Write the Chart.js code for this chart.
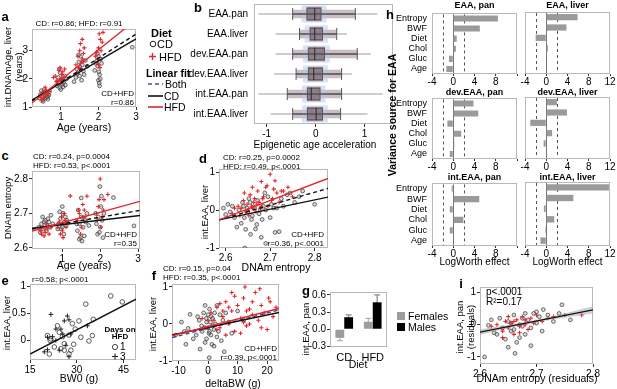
<!DOCTYPE html>
<html><head><meta charset="utf-8">
<script src="https://cdn.jsdelivr.net/npm/chart.js@4.4.1/dist/chart.umd.min.js"></script>
<style>
html,body{margin:0;padding:0;background:#fff;width:617px;height:389px;overflow:hidden;font-family:"Liberation Sans",Arial,Helvetica,sans-serif;}
#root{position:relative;width:617px;height:389px;}
canvas{position:absolute;}
.t{position:absolute;white-space:nowrap;line-height:1;color:#000;}
svg{position:absolute;left:0;top:0;}
</style></head><body><div id="root"></div>
<script>
// ---------------- DATA ----------------
// Panel a: Age (years) vs int.DNAmAge, liver (years)
const aCD = [[0.42,1.32],[0.46,1.45],[0.5,1.38],[0.52,1.25],[0.55,1.52],[0.58,1.4],[0.6,1.33],[0.62,1.48],[0.65,1.28],[0.68,1.42],[0.48,1.58],[0.56,1.62],[0.7,1.55],[0.53,1.2],[0.64,1.36],
[0.9,1.75],[0.93,2.05],[0.95,1.85],[0.97,1.68],[1.0,1.95],[1.0,1.62],[1.02,2.0],[1.04,1.8],[0.98,2.22],[1.06,1.72],[1.08,1.9],[1.1,2.1],[1.12,1.78],[1.15,2.0],[0.96,2.35],
[1.35,1.9],[1.4,2.05],[1.42,2.35],[1.45,2.2],[1.48,2.6],[1.5,2.1],[1.5,2.42],[1.52,2.8],[1.55,1.95],[1.57,2.5],[1.6,2.28],[1.62,2.15],[1.65,2.65],[1.7,2.45],[1.47,2.85],
[1.9,2.3],[1.93,2.55],[1.95,2.62],[1.97,2.9],[1.98,2.45],[2.0,2.8],[2.0,1.95],[2.01,2.25],[2.02,1.85],[2.03,2.15],[2.03,1.75],[2.05,2.0],[2.06,2.7],[2.08,2.55],[2.9,3.12]];
const aHFD = [[0.45,1.4],[0.5,1.5],[0.52,1.28],[0.55,1.35],[0.58,1.7],[0.6,1.6],[0.63,1.5],[0.66,1.42],[0.68,1.55],[0.48,1.22],
[0.8,2.05],[0.85,2.1],[0.88,1.9],[0.9,1.95],[0.95,2.3],[0.98,2.4],[1.0,2.0],[1.02,2.15],[1.03,1.85],[1.05,2.25],[1.1,2.35],[1.08,2.05],
[1.4,2.5],[1.42,2.2],[1.45,2.8],[1.48,2.4],[1.5,3.0],[1.52,3.25],[1.55,2.6],[1.57,3.4],[1.58,2.7],[1.6,2.9],[1.62,3.1],[1.5,2.35],
[1.92,2.8],[1.95,2.95],[1.98,2.7],[2.0,3.1],[2.0,2.5],[2.02,3.6],[2.05,3.4],[2.07,3.0],[2.1,3.3],[2.12,3.65],[2.04,2.4]];
const aFitCD = [[0.23,1.25],[3.0,3.42]];
const aFitHFD = [[0.23,1.14],[3.0,4.1]];
const aFitBoth = [[0.23,1.22],[3.0,3.59]];

// Panel b: epigenetic age acceleration distributions
const bCats = ['EAA.pan','EAA.liver','dev.EAA.pan','dev.EAA.liver','int.EAA.pan','int.EAA.liver'];
const bMin = [-1.17,-0.82,-0.82,-0.85,-1.17,-0.92];
const bMax = [1.26,0.64,1.13,0.74,1.37,1.06];
const bWhiskLo = [-0.47,-0.33,-0.47,-0.4,-0.58,-0.47];
const bWhiskHi = [0.81,0.43,0.85,0.53,0.53,0.51];
const bQ1 = [-0.19,-0.125,-0.16,-0.16,-0.18,-0.18];
const bQ3 = [0.12,0.15,0.19,0.15,0.1,0.15];
const bMed = [-0.02,-0.02,-0.02,-0.04,-0.09,0.01];

// Panel c: Age vs DNAm entropy
const cCD = [[0.38,2.66],[0.42,2.645],[0.45,2.67],[0.48,2.69],[0.5,2.655],[0.52,2.675],[0.55,2.68],[0.58,2.65],[0.6,2.665],[0.62,2.685],[0.65,2.675],[0.68,2.66],[0.7,2.695],[0.75,2.67],
[0.88,2.655],[0.9,2.67],[0.93,2.705],[0.95,2.685],[0.97,2.655],[1.0,2.66],[1.0,2.72],[1.02,2.7],[1.04,2.64],[1.05,2.675],[1.08,2.69],[1.1,2.665],[1.12,2.68],
[1.38,2.67],[1.4,2.65],[1.42,2.71],[1.45,2.67],[1.48,2.63],[1.5,2.69],[1.5,2.745],[1.52,2.62],[1.55,2.66],[1.58,2.635],[1.6,2.68],[1.62,2.675],[1.65,2.7],[1.7,2.665],[1.45,2.625],
[1.88,2.7],[1.9,2.67],[1.93,2.64],[1.95,2.69],[1.98,2.645],[1.99,2.778],[2.0,2.66],[2.02,2.72],[2.03,2.75],[2.05,2.68],[2.07,2.63],[2.1,2.7],[2.35,2.746],[2.89,2.664]];
const cHFD = [[0.42,2.65],[0.45,2.64],[0.5,2.66],[0.55,2.645],[0.58,2.67],[0.6,2.655],[0.65,2.64],[0.7,2.66],[0.52,2.635],
[0.88,2.66],[0.92,2.675],[0.95,2.64],[0.98,2.69],[1.0,2.65],[1.02,2.63],[1.05,2.7],[1.08,2.68],[1.1,2.66],[1.21,2.751],
[1.4,2.68],[1.43,2.71],[1.45,2.7],[1.48,2.64],[1.5,2.66],[1.54,2.726],[1.55,2.69],[1.6,2.69],[1.65,2.75],[1.58,2.71],
[1.9,2.7],[1.92,2.68],[1.95,2.72],[1.97,2.74],[2.0,2.8],[2.02,2.66],[2.05,2.69],[2.08,2.71],[2.1,2.74],[2.2,2.755]];
const cFitCD = [[0.2,2.657],[3.05,2.694]];
const cFitHFD = [[0.2,2.649],[3.05,2.735]];
const cFitBoth = [[0.2,2.655],[3.05,2.709]];

// Panel d: DNAm entropy vs int.EAA, liver
const dCD = [[2.595,0.05],[2.6,-0.12],[2.605,0.15],[2.61,-0.05],[2.615,0.1],[2.62,-0.2],[2.625,-0.45],[2.63,0.0],[2.635,-0.35],[2.638,0.2],[2.64,0.1],[2.642,-0.2],[2.643,-1.0],[2.645,-0.51],[2.648,0.05],[2.65,-0.05],[2.652,0.3],[2.655,0.2],[2.656,-0.64],[2.658,-0.25],[2.66,-0.15],[2.662,0.08],[2.665,0.05],[2.667,-0.5],[2.67,-0.38],[2.672,0.25],[2.675,-0.1],[2.678,0.0],[2.68,-0.72],[2.682,-0.25],[2.685,0.1],[2.688,0.45],[2.69,-0.88],[2.69,0.0],[2.695,0.35],[2.7,-0.2],[2.703,0.15],[2.708,0.05],[2.711,-0.59],[2.715,0.05],[2.72,-0.57],[2.725,0.3],[2.73,0.1],[2.738,0.4],[2.745,0.45],[2.755,0.2],[2.765,0.35],[2.773,0.5],[2.8,0.15]];
const dHFD = [[2.615,-0.1],[2.62,0.05],[2.628,0.1],[2.632,-0.15],[2.635,0.05],[2.64,0.25],[2.642,0.45],[2.645,-0.05],[2.648,0.15],[2.65,0.0],[2.652,-0.15],[2.655,0.4],[2.658,0.1],[2.66,0.05],[2.66,0.6],[2.663,0.2],[2.665,0.3],[2.668,-0.05],[2.67,0.15],[2.672,0.5],[2.675,0.2],[2.678,0.05],[2.68,0.1],[2.68,0.75],[2.683,0.3],[2.685,0.35],[2.69,0.6],[2.693,0.64],[2.695,0.1],[2.7,0.94],[2.703,0.25],[2.705,0.3],[2.708,0.55],[2.711,0.77],[2.715,0.45],[2.72,0.2],[2.725,0.5],[2.73,0.5],[2.74,0.6],[2.75,0.35]];
const dFitCD = [[2.585,-0.26],[2.83,0.34]];
const dFitHFD = [[2.585,-0.26],[2.83,0.83]];
const dFitBoth = [[2.585,-0.26],[2.83,0.57]];

// Panel e: BW0 vs int.EAA, liver
const eDay1 = [[40.9,0.82],[44.6,0.71],[32.9,0.67],[35.3,0.39],[30.7,0.36],[28.6,0.31],[29.5,0.21],[31.3,0.06],[35.0,0.09],[33.9,-0.01],[29,-0.07],[26,-0.06],[23.8,0.27],[24.4,0.15],[25.4,0.07],[21.7,0.03],[20.6,0.09],[21.5,0],[22.8,-0.12],[21.2,-0.25],[26,-0.18],[27.5,-0.25],[24.9,-0.15],[28.1,-0.18],[27.5,0.1]];
const eDay3 = [[21.7,0.48],[27,0.45],[27.5,0.38],[23.3,0.21],[24.9,0.21],[20.6,0.06],[22.2,0.07],[23.3,0],[19.6,-0.21],[20.6,-0.17],[24.4,-0.18],[27.5,-0.3],[26.5,-0.09],[28.1,0.12],[33.4,0.27],[26,0.36],[25.5,0.12]];
const eFit = [[15,-0.25],[49,0.76]];

// Panel f: deltaBW vs int.EAA, liver
const fCD = [[-11,-0.3],[-9,0.05],[-8,-0.2],[-6.7,-0.12],[-6.1,0.26],[-5,-0.4],[-4,-0.3],[-3.5,0.2],[-3,0.1],[-2.7,-0.68],[-2.2,-0.05],[-2,-0.2],[-1.5,0.3],[-1.2,-0.1],[-1,-0.5],[-1,0.5],[-0.6,0.15],[-0.5,0.05],[-0.5,-0.4],[0,-0.1],[0,0.25],[0.3,-0.25],[0.4,-0.91],[0.5,0.4],[0.5,-0.2],[0.8,0.05],[1,-0.3],[1,0.2],[1.3,-0.55],[1.5,0.15],[1.5,-0.05],[2,-0.6],[2,-0.15],[2.2,0.3],[2.5,0.0],[3,0.5],[3,-0.35],[3.5,-0.2],[4,0.25],[4.5,-0.45],[5,0.1],[5.5,-0.75],[6,0.3],[7,0.05],[8,-0.25],[10,0.35],[12,0.1],[-7.5,-0.55]];
const fHFD = [[-2,0.15],[-1,-0.1],[0,0.1],[1,0.3],[2,0.1],[3,0.45],[4,-0.1],[4,0.55],[5,0.2],[6,0.6],[6,-0.3],[7,0.0],[7,0.45],[8,0.35],[8,0.85],[9,-0.2],[9,0.75],[10,0.5],[11,0.15],[11,-0.25],[12,0.7],[12,0.05],[12.5,1.0],[13,-0.05],[13,0.35],[14,0.4],[14,0.0],[15,0.25],[15,0.6],[16,0.85],[17,0.1],[17.5,0.95],[18,0.5],[18,-0.1],[19,0.3],[20,-0.15],[20.5,0.7],[21,0.6],[22,0.2],[23,0.45],[3,-0.15],[5,0.35]];
const fFitCD = [[-12.2,-0.30],[24,0.31]];
const fFitHFD = [[-12.2,-0.32],[24,0.42]];
const fFitBoth = [[-12.2,-0.37],[24,0.38]];

// Panel g: int.EAA, pan by diet and sex
const gCats = ['CD','HFD'];
const gFemales = [-0.15,0.13];
const gMales = [0.21,0.47];
const gFemalesErr = [0.05,0.06];
const gMalesErr = [0.04,0.13];

// Panel h: LogWorth effects
const hCats = ['Entropy','BWF','Diet','Chol','Gluc','Age'];
const hEAApan = [8.4,5.0,0.65,0.5,-0.8,-1.3];
const hEAAliver = [5.9,3.8,-2.0,0.3,0,0];
const hDevPan = [3.8,4.7,-1.1,1.5,0.2,-0.65];
const hDevLiver = [2.0,3.9,-3.0,1.1,-0.5,0];
const hIntPan = [-0.3,4.9,-0.65,1.9,-0.65,0];
const hIntLiver = [11.8,5.1,-0.45,1.5,-0.2,-1.1];
const hThresholds = [-2,2];

// Panel i: residuals
const iCD = [[2.608,-1.0],[2.615,-0.02],[2.62,0.15],[2.63,-0.3],[2.635,0.2],[2.64,-0.1],[2.645,-0.45],[2.65,0.1],[2.65,-0.7],[2.655,-0.2],[2.66,0.3],[2.66,-0.15],[2.662,-0.89],[2.665,-0.55],[2.67,0.0],[2.67,-0.4],[2.675,0.2],[2.68,-0.3],[2.68,0.35],[2.685,0.15],[2.69,-0.1],[2.69,-0.65],[2.695,0.35],[2.7,0.05],[2.7,0.4],[2.705,0.25],[2.71,-0.2],[2.712,0.47],[2.72,0.3],[2.73,0.1],[2.74,0.35],[2.745,0.62],[2.76,0.15],[2.625,-0.25],[2.655,0.05],[2.675,-0.05]];
const iHFD = [[2.62,-0.05],[2.63,0.0],[2.64,-0.2],[2.64,-0.4],[2.645,0.1],[2.65,-0.1],[2.65,0.25],[2.655,0.05],[2.66,-0.3],[2.66,0.1],[2.665,0.15],[2.67,-0.05],[2.67,-0.25],[2.675,0.25],[2.68,0.0],[2.68,0.15],[2.685,-0.15],[2.69,0.2],[2.695,0.05],[2.7,0.3],[2.71,0.1],[2.72,0.2],[2.73,0.25],[2.75,0.3],[2.78,0.3]];
const iFit = [[2.6,-0.23],[2.8,0.46]];
const iBandHi = [[2.6,-0.16],[2.64,-0.05],[2.68,0.071],[2.72,0.214],[2.76,0.38],[2.8,0.56]];
const iBandLo = [[2.6,-0.30],[2.64,-0.13],[2.68,0.021],[2.72,0.154],[2.76,0.26],[2.8,0.36]];

// ---------------- HELPERS ----------------
Chart.defaults.font.family = "'Liberation Sans', Arial, Helvetica, sans-serif";
Chart.defaults.color = '#000';
const root = document.getElementById('root');
const RED = '#e3262b';
const pts = a => a.map(([x,y]) => ({x,y}));

function txt(x,y,s,o={}){
  const d=document.createElement('div'); d.className='t'; d.textContent=s;
  d.style.fontSize=(o.size||10)+'px'; if(o.bold) d.style.fontWeight='bold'; if(o.color) d.style.color=o.color;
  const ax = o.align==='left'?'0%':o.align==='right'?'-100%':'-50%';
  d.style.left=x+'px'; d.style.top=y+'px';
  d.style.transform='translate('+ax+',-50%)'+(o.rot?' rotate('+o.rot+'deg)':'');
  root.appendChild(d);
}

const framePlugin = {id:'frame', beforeDatasetsDraw(chart){
  const a=chart.chartArea, ctx=chart.ctx; ctx.save(); ctx.strokeStyle='#b8b8b8'; ctx.lineWidth=1;
  ctx.strokeRect(Math.round(a.left)+0.5, Math.round(a.top)+0.5, Math.round(a.right-a.left)-1, Math.round(a.bottom-a.top)-1); ctx.restore();}};

function linAxis(min,max,ticks,size,o={}){
  return {type:'linear', min, max, display:true,
    afterBuildTicks: s=>{ s.ticks = ticks.map(v=>({value:v})); },
    ticks:{font:{size:o.font||10}, color:'#000', padding:o.pad??1, maxRotation:0, minRotation:0, autoSkip:false,
      display: o.labels!==false, callback: o.cb || (v=>String(v))},
    grid:{display:true, drawOnChartArea:false, drawTicks:true, tickLength:o.tl??3, color:'#333', lineWidth:1},
    border:{display:false},
    afterFit: s=>{ if(s.isHorizontal()) s.height=size; else s.width=size; }
  };
}
function catAxis(labels,size,o={}){
  return {type:'category', labels, display:o.display!==false, offset:true,
    ticks:{font:{size:o.font||10}, color:'#000', padding:o.pad??3, autoSkip:false, maxRotation:0, minRotation:0, display:o.labels!==false},
    grid:{display:o.grid===true, drawOnChartArea:false, drawTicks:true, tickLength:3, color:'#333'},
    border:{display:false},
    afterFit: s=>{ if(s.isHorizontal()) s.height=size; else s.width=size; }
  };
}

function panel(fr, yW, xH, cfg){
  const pad={top:6,right:8,left:8,bottom:0};
  const c=document.createElement('canvas');
  const W=pad.left+yW+fr.w+pad.right, H=pad.top+fr.h+xH;
  c.width=W; c.height=H; c.style.width=W+'px'; c.style.height=H+'px';
  c.style.left=(fr.l-yW-pad.left)+'px'; c.style.top=(fr.t-pad.top)+'px';
  root.appendChild(c);
  cfg.options = Object.assign({responsive:false, animation:false, devicePixelRatio:1, maintainAspectRatio:false,
    layout:{padding:pad}, plugins:{legend:{display:false}, tooltip:{enabled:false}}}, cfg.options||{});
  cfg.plugins = [framePlugin].concat(cfg.plugins||[]);
  return new Chart(c,cfg);
}

function lineDs(d,color,dash){ return {data:pts(d), showLine:true, pointRadius:0, borderColor:color, borderWidth:1.4, borderDash:dash||[], fill:false}; }
function cdDs(d){ return {data:pts(d), pointStyle:'circle', pointRadius:1.9, borderColor:'#333', borderWidth:0.7, backgroundColor:'rgba(150,150,150,0.35)'}; }
function hfdDs(d){ return {data:pts(d), pointStyle:'cross', pointRadius:2.1, borderColor:RED, borderWidth:1.1, backgroundColor:RED}; }

function scatter(fr, xAx, yAx, datasets){
  return panel(fr, 30, 18, {type:'scatter', data:{datasets}, options:{scales:{x:xAx, y:yAx}}});
}

// ---------------- PANEL a ----------------
scatter({l:32,t:28,w:104,h:79}, linAxis(0.23,3.0,[1,2,3],18), linAxis(1,3.77,[1,2,3],30),
  [lineDs(aFitHFD,RED), lineDs(aFitCD,'#111'), lineDs(aFitBoth,'#111',[4,3]), hfdDs(aHFD), cdDs(aCD)]);
// ---------------- PANEL c ----------------
scatter({l:32,t:170,w:108,h:79}, linAxis(0.2,3.05,[1,2,3],18), linAxis(2.597,2.823,[2.6,2.7,2.8],30),
  [lineDs(cFitHFD,RED), lineDs(cFitCD,'#111'), lineDs(cFitBoth,'#111',[4,3]), hfdDs(cHFD), cdDs(cCD)]);
// ---------------- PANEL d ----------------
scatter({l:219,t:168,w:109,h:80}, linAxis(2.585,2.83,[2.6,2.7,2.8],18), linAxis(-1,1.08,[-1,0,1],30),
  [lineDs(dFitHFD,RED), lineDs(dFitCD,'#111'), lineDs(dFitBoth,'#111',[4,3]), hfdDs(dHFD), cdDs(dCD)]);
// ---------------- PANEL e ----------------
scatter({l:30,t:283,w:106,h:77}, linAxis(15,49,[15,30,45],18), linAxis(-0.36,1.04,[0,0.5,1],30),
  [lineDs(eFit,'#111'),
   {data:pts(eDay3), pointStyle:'cross', pointRadius:2.4, borderColor:'#222', borderWidth:1},
   {data:pts(eDay1), pointStyle:'circle', pointRadius:2.3, borderColor:'#333', borderWidth:0.8, backgroundColor:'rgba(255,255,255,0)'}]);
// ---------------- PANEL f ----------------
scatter({l:172,t:283,w:107,h:78}, linAxis(-12.2,24,[-10,0,10,20],18), linAxis(-1,1.08,[-1,0,1],30),
  [lineDs(fFitHFD,RED), lineDs(fFitCD,'#111'), lineDs(fFitBoth,'#3b3b8f',[4,3]), hfdDs(fHFD), cdDs(fCD)]);
// ---------------- PANEL i ----------------
scatter({l:480,t:286,w:113,h:78}, linAxis(2.6,2.8,[2.6,2.7,2.8],18), linAxis(-1.22,1.17,[-1,0,1],30),
  [lineDs(iFit,'#111'),
   {data:pts(iBandHi), showLine:true, pointRadius:0, borderColor:'rgba(150,150,150,0.6)', borderWidth:0.6, fill:'+1', backgroundColor:'rgba(160,160,160,0.45)'},
   {data:pts(iBandLo), showLine:true, pointRadius:0, borderColor:'rgba(150,150,150,0.6)', borderWidth:0.6, fill:false},
   hfdDs(iHFD), cdDs(iCD)]);

// ---------------- PANEL b ----------------
(function(){
  const thin = 0.012;
  const fb = (lo,hi,bp,color,extra) => Object.assign({data:lo.map((v,i)=>[v,hi[i]]), grouped:false, barPercentage:bp, categoryPercentage:1, backgroundColor:color, borderWidth:0}, extra||{});
  const medLo=bMed.map(v=>v-thin), medHi=bMed.map(v=>v+thin);
  const capLLo=bWhiskLo.map(v=>v-0.01), capLHi=bWhiskLo.map(v=>v+0.01);
  const capRLo=bWhiskHi.map(v=>v-0.01), capRHi=bWhiskHi.map(v=>v+0.01);
  const haloLo=bQ1.map(v=>v-0.1), haloHi=bQ3.map(v=>v+0.1);
  panel({l:254,t:1,w:139,h:123}, 72, 16, {type:'bar', data:{labels:bCats, datasets:[
      fb(medLo,medHi,0.62,'#333'),
      fb(capLLo,capLHi,0.6,'#555'),
      fb(capRLo,capRHi,0.6,'#555'),
      fb(bQ1,bQ3,0.62,'rgba(0,0,0,0)',{borderWidth:1,borderColor:'#555',borderSkipped:false}),
      fb(bWhiskLo,bWhiskHi,0.07,'#555'),
      fb(bQ1,bQ3,0.72,'rgba(125,100,110,0.75)'),
      fb(haloLo,haloHi,0.85,'rgba(185,200,232,0.55)'),
      fb(bWhiskLo,bWhiskHi,0.42,'rgba(150,125,140,0.5)'),
      fb(bMin,bMax,0.1,'rgba(150,140,165,0.45)')
    ]},
    options:{indexAxis:'y', scales:{x:linAxis(-1.26,1.58,[-1,0,1],16), y:catAxis(bCats,72,{font:10,pad:3})}}});
})();

// ---------------- PANEL g ----------------
const errPlugin = {id:'err', beforeDatasetsDraw(chart){
  const ctx=chart.ctx, ys=chart.scales.y;
  chart.data.datasets.forEach((ds,i)=>{ chart.getDatasetMeta(i).data.forEach((el,j)=>{
    const v=ds.data[j], e=ds.err[j], x=el.x, y1=ys.getPixelForValue(v-e), y2=ys.getPixelForValue(v+e);
    ctx.save(); ctx.strokeStyle=ds.errColor; ctx.lineWidth=1.2; ctx.beginPath();
    ctx.moveTo(x,y1); ctx.lineTo(x,y2); ctx.moveTo(x-3,y1); ctx.lineTo(x+3,y1); ctx.moveTo(x-3,y2); ctx.lineTo(x+3,y2);
    ctx.stroke(); ctx.restore(); }); }); }};
panel({l:330,t:291,w:57,h:56}, 26, 16, {type:'bar', data:{labels:gCats, datasets:[
    {data:gFemales, err:gFemalesErr, errColor:'#b0b0b0', backgroundColor:'#9c9c9c', barPercentage:1, categoryPercentage:0.62},
    {data:gMales, err:gMalesErr, errColor:'#8a8a8a', backgroundColor:'#000', barPercentage:1, categoryPercentage:0.62}]},
  options:{scales:{x:catAxis(gCats,16,{font:11,pad:1}), y:linAxis(-0.31,0.65,[-0.3,0,0.3,0.6],26,{cb:v=>v.toFixed(1)})}},
  plugins:[errPlugin]});

// ---------------- PANEL h ----------------
const refPlugin = {id:'ref', beforeDatasetsDraw(chart){
  const ctx=chart.ctx, xs=chart.scales.x, a=chart.chartArea; ctx.save();
  ctx.strokeStyle='#555'; ctx.lineWidth=1; ctx.setLineDash([3,3]);
  hThresholds.forEach(v=>{const x=Math.round(xs.getPixelForValue(v))+0.5; ctx.beginPath(); ctx.moveTo(x,a.top+1); ctx.lineTo(x,a.bottom-1); ctx.stroke();});
  ctx.setLineDash([]); ctx.strokeStyle='#777';
  const x0=Math.round(xs.getPixelForValue(0))+0.5; ctx.beginPath(); ctx.moveTo(x0,a.top+1); ctx.lineTo(x0,a.bottom-1); ctx.stroke();
  ctx.restore(); }};
function hPanel(l,t,h,vals,left){
  const yW = left?40:0;
  panel({l,t,w:85,h}, yW, 14, {type:'bar', data:{labels:hCats, datasets:[{data:vals, backgroundColor:'#9a9a9a', barPercentage:0.6, categoryPercentage:1}]},
    options:{indexAxis:'y', scales:{
      x:linAxis(-4,12,[-4,0,4,8,12],14,{tl:2,pad:0,cb:(v)=> (left && v===12)?'':String(v)}),
      y: left? catAxis(hCats,40,{font:9,pad:2}) : Object.assign(catAxis(hCats,0),{display:false})}},
    plugins:[refPlugin]});
}
hPanel(432,12,62,hEAApan,true); hPanel(525,12,62,hEAAliver,false);
hPanel(432,97,62,hDevPan,true); hPanel(525,97,62,hDevLiver,false);
hPanel(432,182,64,hIntPan,true); hPanel(525,182,64,hIntLiver,false);

// ---------------- TEXT ----------------
const L=13;
txt(5,16,'a',{bold:true,size:L}); txt(198,7,'b',{bold:true,size:L}); txt(5,155,'c',{bold:true,size:L});
txt(203,158,'d',{bold:true,size:L}); txt(5,280,'e',{bold:true,size:L}); txt(154,275,'f',{bold:true,size:L});
txt(306,290,'g',{bold:true,size:L}); txt(390,14,'h',{bold:true,size:L}); txt(461,283,'i',{bold:true,size:L});
const YT=9.5;
// a
txt(79,24,'CD: r=0.86; HFD: r=0.91',{size:8});
txt(134,94,'CD+HFD',{size:8,align:'right'}); txt(134,103,'r=0.86',{size:8,align:'right'});
txt(8,67,'int.DNAmAge, liver',{size:YT,rot:-90}); txt(19,67,'(years)',{size:YT,rot:-90});
txt(84,127,'Age (years)',{size:10.5});
txt(151,33,'Diet',{bold:true,size:11,align:'left'});
txt(157,44,'CD',{size:11,align:'left'}); txt(159,57,'HFD',{size:11,align:'left'});
txt(146,73,'Linear fit',{bold:true,size:10.5,align:'left'});
txt(165,84,'Both',{size:10.5,align:'left'}); txt(164,96,'CD',{size:10.5,align:'left'}); txt(164,107,'HFD',{size:10.5,align:'left'});
// b
txt(315,145,'Epigenetic age acceleration',{size:10});
// c
txt(33,157,'CD: r=0.24, p=0.0004',{size:8,align:'left'}); txt(33,166,'HFD: r=0.53, p<.0001',{size:8,align:'left'});
txt(137,235,'CD+HFD',{size:8,align:'right'}); txt(137,244,'r=0.35',{size:8,align:'right'});
txt(8,208,'DNAm entropy',{size:YT,rot:-90}); txt(84,265,'Age (years)',{size:10.5});
// d
txt(223,158,'CD: r=0.25, p=0.0002',{size:8,align:'left'}); txt(223,167,'HFD: r=0.49, p<.0001',{size:8,align:'left'});
txt(324,235,'CD+HFD',{size:8,align:'right'}); txt(324,244,'r=0.36, p<.0001',{size:8,align:'right'});
txt(205,212,'int.EAA, liver',{size:YT,rot:-90}); txt(276,267,'DNAm entropy',{size:10.5});
// e
txt(32,280,'r=0.58; p<.0001',{size:8,align:'left'});
txt(7,323,'int.EAA, liver',{size:YT,rot:-90}); txt(79,378,'BW0 (g)',{size:10.5});
txt(120,330,'Days on',{bold:true,size:8}); txt(120,337,'HFD',{bold:true,size:8});
txt(120,347,'1',{size:10,align:'left'}); txt(120,357,'3',{size:10,align:'left'});
// f
txt(163,269,'CD: r=0.15, p=0.04',{size:8,align:'left'}); txt(163,278,'HFD: r=0.35, p<.0001',{size:8,align:'left'});
txt(277,349,'CD+HFD',{size:8,align:'right'}); txt(277,358,'r=0.39, p<.0001',{size:8,align:'right'});
txt(153,324,'int.EAA, liver',{size:YT,rot:-90}); txt(233,383,'deltaBW (g)',{size:10.5});
// g
txt(306,329,'int.EAA, pan',{size:YT,rot:-90}); txt(358,364,'Diet',{size:10.5});
txt(408,316,'Females',{size:10.5,align:'left'}); txt(408,327,'Males',{size:10.5,align:'left'});
// h
txt(392,115,'Variance source for EAA',{bold:true,size:10.5,rot:-90});
txt(474.5,5,'EAA, pan',{bold:true,size:9}); txt(567.5,5,'EAA, liver',{bold:true,size:9});
txt(474.5,92,'dev.EAA, pan',{bold:true,size:9}); txt(567.5,92,'dev.EAA, liver',{bold:true,size:9});
txt(474.5,177,'int.EAA, pan',{bold:true,size:9}); txt(567.5,177,'int.EAA, liver',{bold:true,size:9});
txt(474.5,262,'LogWorth effect',{size:10}); txt(567.5,262,'LogWorth effect',{size:10});
// i
txt(486,292,'p<.0001',{size:10,align:'left'}); txt(486,302,'R²=0.17',{size:10,align:'left'});
txt(460,327,'int.EAA, pan',{size:YT,rot:-90}); txt(471,327,'(residuals)',{size:YT,rot:-90});
txt(537,378,'DNAm entropy (residuals)',{size:10.5});

// legend symbols
const NS='http://www.w3.org/2000/svg';
const svg=document.createElementNS(NS,'svg'); svg.setAttribute('width','617'); svg.setAttribute('height','389');
svg.innerHTML =
 '<circle cx="153" cy="44" r="2.8" fill="none" stroke="#222" stroke-width="1"/>'+
 '<path d="M152.5 53v7M149 56.5h7" stroke="'+RED+'" stroke-width="1.4"/>'+
 '<path d="M148 84h15" stroke="#6a3d9a" stroke-width="1.6" stroke-dasharray="4,3"/>'+
 '<path d="M148 96h15" stroke="#111" stroke-width="1.6"/>'+
 '<path d="M148 107h15" stroke="'+RED+'" stroke-width="1.6"/>'+
 '<circle cx="115" cy="347" r="2.6" fill="none" stroke="#333" stroke-width="0.9"/>'+
 '<path d="M115 353.5v6M112 356.5h6" stroke="#222" stroke-width="1.1"/>'+
 '<rect x="397" y="312" width="8" height="8" fill="#9c9c9c"/>'+
 '<rect x="397" y="323" width="8" height="8" fill="#000"/>';
root.appendChild(svg);
</script></body></html>
